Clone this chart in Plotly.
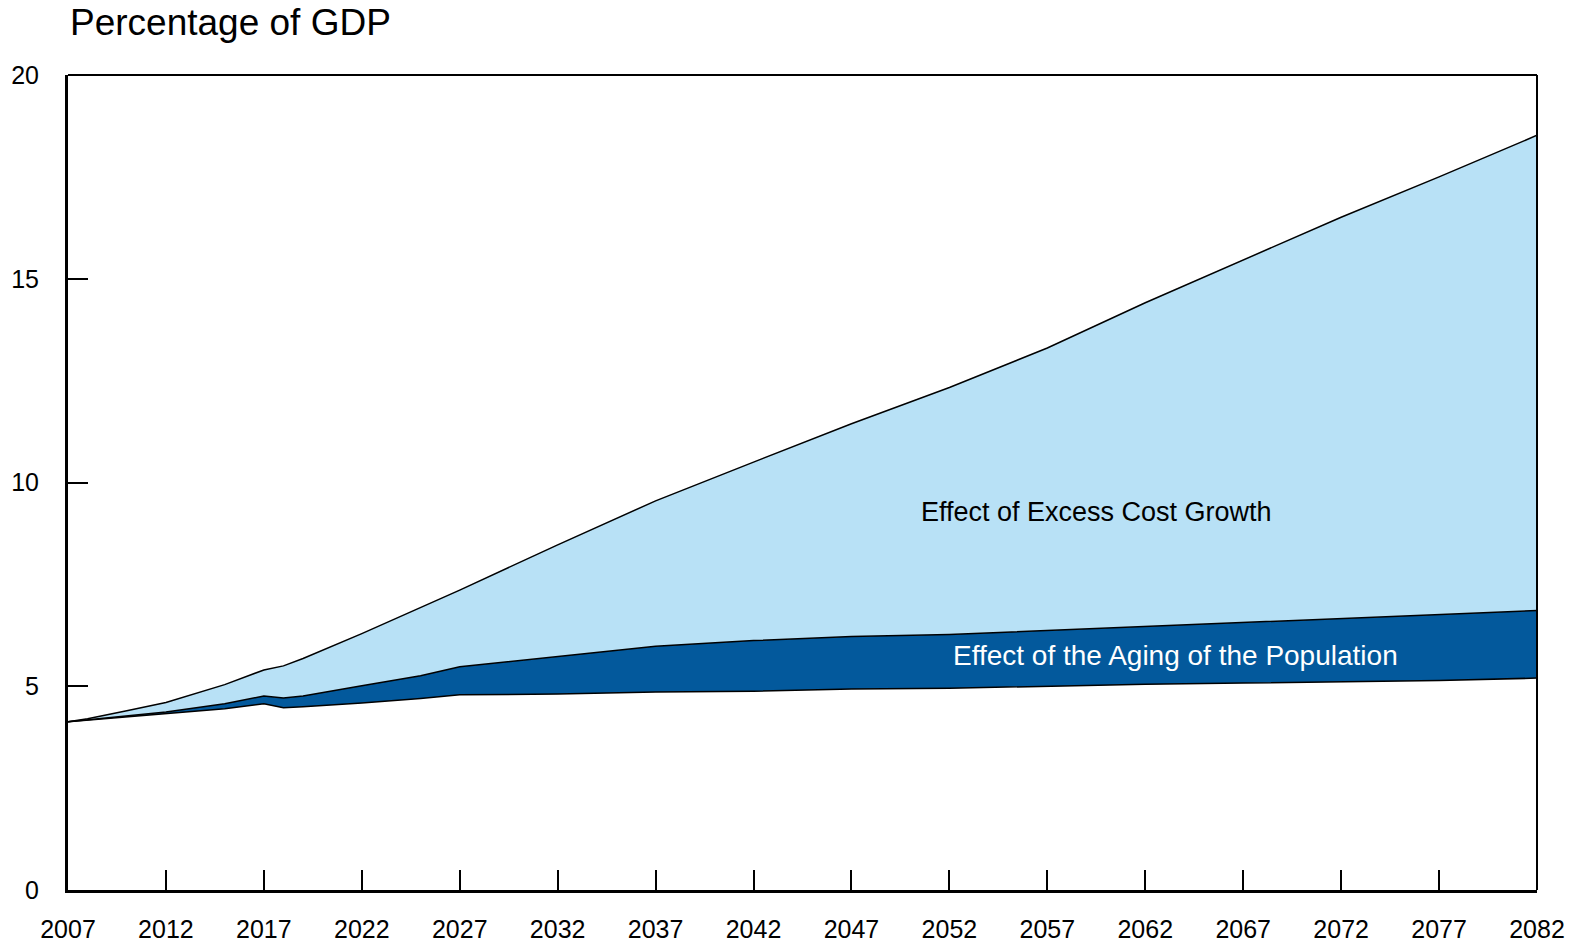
import plotly.graph_objects as go

years = [2007, 2008, 2010, 2012, 2015, 2017, 2018, 2019, 2022, 2025, 2027,
         2032, 2037, 2042, 2047, 2052, 2057, 2062, 2067, 2072, 2077, 2082]
baseline = [4.13, 4.17, 4.24, 4.32, 4.45, 4.57, 4.47, 4.50, 4.59, 4.70, 4.79,
            4.81, 4.86, 4.88, 4.93, 4.95, 5.00, 5.05, 5.08, 5.11, 5.14, 5.20]
with_aging = [4.13, 4.18, 4.27, 4.37, 4.57, 4.76, 4.71, 4.76, 5.01, 5.26, 5.48,
              5.73, 5.98, 6.12, 6.22, 6.27, 6.37, 6.47, 6.57, 6.67, 6.76, 6.86]
total = [4.13, 4.20, 4.40, 4.60, 5.04, 5.40, 5.50, 5.68, 6.29, 6.92, 7.36,
         8.47, 9.55, 10.50, 11.44, 12.33, 13.30, 14.41, 15.47, 16.51, 17.50, 18.52]

x_ticks = list(range(2007, 2083, 5))
y_ticks = [0, 5, 10, 15, 20]

DARK = "#03599C"
LIGHT = "#B8E1F6"
FONT = "Liberation Sans, Arial, sans-serif"

fig = go.Figure()
fig.add_trace(go.Scatter(x=years, y=baseline, mode="lines",
                         line=dict(color="black", width=1.5), showlegend=False,
                         hoverinfo="skip"))
fig.add_trace(go.Scatter(x=years, y=with_aging, mode="lines", fill="tonexty",
                         fillcolor=DARK, line=dict(color="black", width=1.5),
                         showlegend=False, hoverinfo="skip"))
fig.add_trace(go.Scatter(x=years, y=total, mode="lines", fill="tonexty",
                         fillcolor=LIGHT, line=dict(color="black", width=1.5),
                         showlegend=False, hoverinfo="skip"))

fig.add_annotation(x=2059.5, y=9.28, xref="x", yref="y",
                   text="Effect of Excess Cost Growth", showarrow=False,
                   font=dict(family=FONT, size=27, color="black"))
fig.add_annotation(x=2063.55, y=5.75, xref="x", yref="y",
                   text="Effect of the Aging of the Population", showarrow=False,
                   font=dict(family=FONT, size=28, color="white"))
fig.add_annotation(x=0.0, y=1.064, xref="paper", yref="paper",
                   xanchor="left", yanchor="middle",
                   text="Percentage of GDP", showarrow=False,
                   font=dict(family=FONT, size=37, color="black"))

# frame (top/right thinner)
fig.add_shape(type="line", xref="paper", yref="paper", x0=0, x1=1, y0=1, y1=1,
              line=dict(color="black", width=2))
fig.add_shape(type="line", xref="paper", yref="paper", x0=1, x1=1, y0=0, y1=1,
              line=dict(color="black", width=2))

fig.update_xaxes(range=[2007, 2082], tickvals=x_ticks,
                 ticktext=[str(v) for v in x_ticks],
                 ticks="inside", ticklen=20, tickwidth=1.5, tickcolor="black",
                 showline=True, linecolor="black", linewidth=3,
                 showgrid=False, zeroline=False, ticklabelstandoff=15,
                 automargin=False,
                 tickfont=dict(family=FONT, size=25, color="black"))
fig.update_yaxes(range=[0, 20], tickvals=y_ticks,
                 ticks="inside", ticklen=20, tickwidth=1.5, tickcolor="black",
                 showline=True, linecolor="black", linewidth=3,
                 showgrid=False, zeroline=False, ticklabelstandoff=21,
                 automargin=False,
                 tickfont=dict(family=FONT, size=25, color="black"))

fig.update_layout(width=1571, height=939,
                  margin=dict(l=60, r=42, t=67, b=57, autoexpand=False),
                  paper_bgcolor="white", plot_bgcolor="white",
                  font=dict(family=FONT))

fig.write_html("out.html")
